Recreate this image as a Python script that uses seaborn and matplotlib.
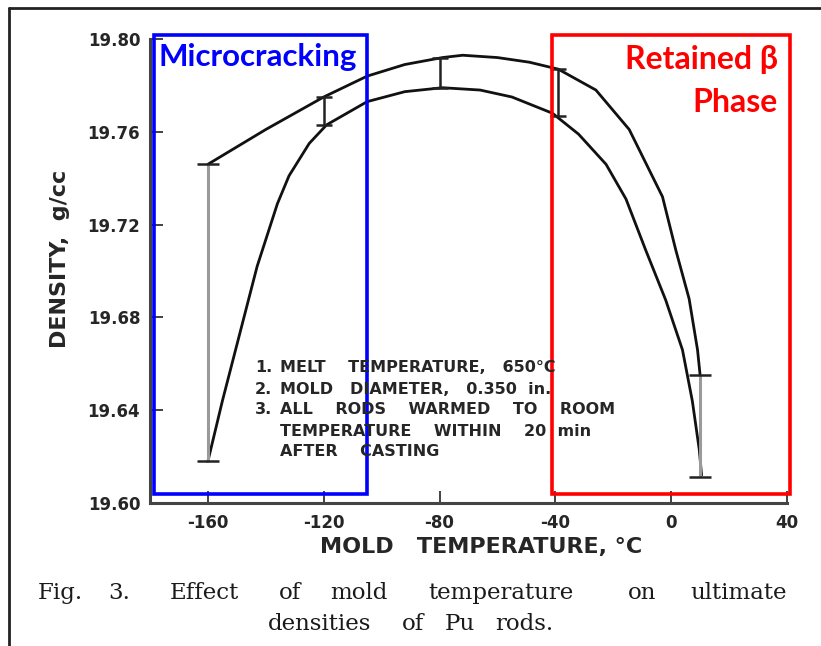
import matplotlib
matplotlib.use("Agg")
import matplotlib.pyplot as plt
from matplotlib.patches import Rectangle
from matplotlib.lines import Line2D
import numpy as np
import pandas as pd
import seaborn as sns

# Upper bound of ultimate density (g/cc) vs mold temperature (deg C)
upper_temp = [-160, -140, -120, -105, -92, -79, -72, -60, -49, -39, -26, -14.5, -3, 1.6, 6.2, 9.1, 10]
upper_density = [19.746, 19.761, 19.775, 19.784, 19.789, 19.792, 19.793, 19.792, 19.790, 19.787,
                 19.778, 19.761, 19.732, 19.709, 19.688, 19.666, 19.655]

# Lower bound of ultimate density
lower_temp = [-160, -155, -149, -143, -136, -132, -125, -119, -105, -92, -79, -66, -55, -41, -32,
              -22.5, -15.6, -8.8, -1.9, 3.9, 7.3, 9.7, 10.5]
lower_density = [19.618, 19.644, 19.673, 19.702, 19.729, 19.741, 19.755, 19.763, 19.773, 19.7773,
                 19.779, 19.778, 19.775, 19.768, 19.759, 19.746, 19.731, 19.709, 19.6875, 19.666,
                 19.644, 19.623, 19.612]

# Measured scatter ranges at each casting temperature
bar_temp = [-160, -120, -80, -39, 10]
bar_low = [19.618, 19.763, 19.779, 19.767, 19.611]
bar_high = [19.746, 19.775, 19.792, 19.787, 19.655]
bar_light = [True, False, False, False, True]

x_ticks = [-160, -120, -80, -40, 0, 40]
y_ticks = [19.60, 19.64, 19.68, 19.72, 19.76, 19.80]

notes = [("1.", "MELT    TEMPERATURE,   650°C"),
         ("2.", "MOLD   DIAMETER,   0.350  in."),
         ("3.", "ALL    RODS    WARMED    TO    ROOM"),
         ("", "TEMPERATURE    WITHIN    20  min"),
         ("", "AFTER    CASTING")]

sns.set_theme(style="ticks")
plt.rcParams["font.family"] = ["DejaVu Sans"]
plt.rcParams["axes.unicode_minus"] = False

W, H = 821, 646
fig = plt.figure(figsize=(W / 100, H / 100), dpi=100)
fig.patch.set_facecolor("white")


def fx(px):
    return px / W


def fy(py):
    return 1 - py / H


ax = fig.add_axes([fx(150), fy(503), fx(787) - fx(150), fy(39) - fy(503)])
ax.set_facecolor("white")

df_up = pd.DataFrame({"temp": upper_temp, "density": upper_density})
df_lo = pd.DataFrame({"temp": lower_temp, "density": lower_density})
sns.lineplot(data=df_up, x="temp", y="density", ax=ax, color="#111111", lw=2.0, sort=False)
sns.lineplot(data=df_lo, x="temp", y="density", ax=ax, color="#111111", lw=2.0, sort=False)

bt = np.array(bar_temp, dtype=float)
bl = np.array(bar_low)
bh = np.array(bar_high)
light = np.array(bar_light)
mid = (bl + bh) / 2
half = (bh - bl) / 2
ax.errorbar(bt[light], mid[light], yerr=half[light], fmt="none", ecolor="#9a9a9a",
            elinewidth=2.2, capsize=0)
ax.errorbar(bt[light], mid[light], yerr=half[light], fmt="none", ecolor="#222222",
            elinewidth=0, capsize=8, capthick=1.8)
ax.errorbar(bt[~light], mid[~light], yerr=half[~light], fmt="none", ecolor="#222222",
            elinewidth=1.8, capsize=6, capthick=1.8, ls=":")

ax.set_xlim(-180, 40)
ax.set_ylim(19.60, 19.80)
ax.set_xticks(x_ticks)
ax.set_yticks(y_ticks)
ax.set_xticklabels([str(v) for v in x_ticks], fontsize=12, fontweight="bold")
ax.set_yticklabels([f"{v:.2f}" for v in y_ticks], fontsize=12, fontweight="bold")
ax.tick_params(axis="both", direction="in", length=9, width=1.3, color="#333333")
ax.tick_params(axis="x", pad=8)
ax.tick_params(axis="y", pad=7)
for s in ["top", "right"]:
    ax.spines[s].set_visible(False)
for s in ["left", "bottom"]:
    ax.spines[s].set_color("#444444")
    ax.spines[s].set_linewidth(2.2)

ax.set_xlabel("MOLD   TEMPERATURE, °C", fontsize=16, fontweight="bold")
ax.set_ylabel("DENSITY,  g/cc", fontsize=16, fontweight="bold")
ax.xaxis.set_label_coords((481 - 150) / (787 - 150), -(537 - 503) / (503 - 39))
ax.yaxis.set_label_coords(-(150 - 70) / (787 - 150), (503 - 259) / (503 - 39))

# Experimental conditions
rows_y = [368, 390, 410, 431, 452]
for (num, txt), yy in zip(notes, rows_y):
    if num:
        fig.text(fx(272), fy(yy), num, ha="right", va="center", fontsize=11.5, fontweight="bold")
    fig.text(fx(280), fy(yy), txt, ha="left", va="center", fontsize=11.5, fontweight="bold")

# Highlighted regimes
ax.add_patch(Rectangle((-178.6, 19.6039), 73.5, 0.1978, fill=False, ec="#0000FF", lw=2.6,
                       clip_on=False, zorder=5))
ax.add_patch(Rectangle((-41.0, 19.6039), 82.0, 0.1978, fill=False, ec="#FF0000", lw=2.6,
                       clip_on=False, zorder=5))
fig.text(fx(258), fy(57), "Microcracking", ha="center", va="center", color="#0000FF",
         fontsize=22.5, fontweight="bold", family=["Lato", "DejaVu Sans"])
fig.text(fx(778), fy(59), "Retained β", ha="right", va="center", color="#FF0000",
         fontsize=23, fontweight="bold", family=["Lato", "DejaVu Sans"])
fig.text(fx(778), fy(103), "Phase", ha="right", va="center", color="#FF0000",
         fontsize=23, fontweight="bold", family=["Lato", "DejaVu Sans"])

# Figure caption
line1 = [("Fig.", 38), ("3.", 108), ("Effect", 170), ("of", 279), ("mold", 330),
         ("temperature", 428), ("on", 628), ("ultimate", 690)]
line2 = [("densities", 268), ("of", 402), ("Pu", 445), ("rods.", 495)]
for word, xx in line1:
    fig.text(fx(xx), fy(593), word, ha="left", va="center", fontsize=16.5, family=["DejaVu Serif"],
             color="#1a1a1a")
for word, xx in line2:
    fig.text(fx(xx), fy(624), word, ha="left", va="center", fontsize=16.5, family=["DejaVu Serif"],
             color="#1a1a1a")

# Page frame
fig.add_artist(Line2D([fx(9), fx(9)], [0, fy(8)], color="#222222", lw=2))
fig.add_artist(Line2D([fx(9), 1], [fy(8), fy(8)], color="#222222", lw=2))

fig.savefig("out.png", dpi=100, facecolor="white")
